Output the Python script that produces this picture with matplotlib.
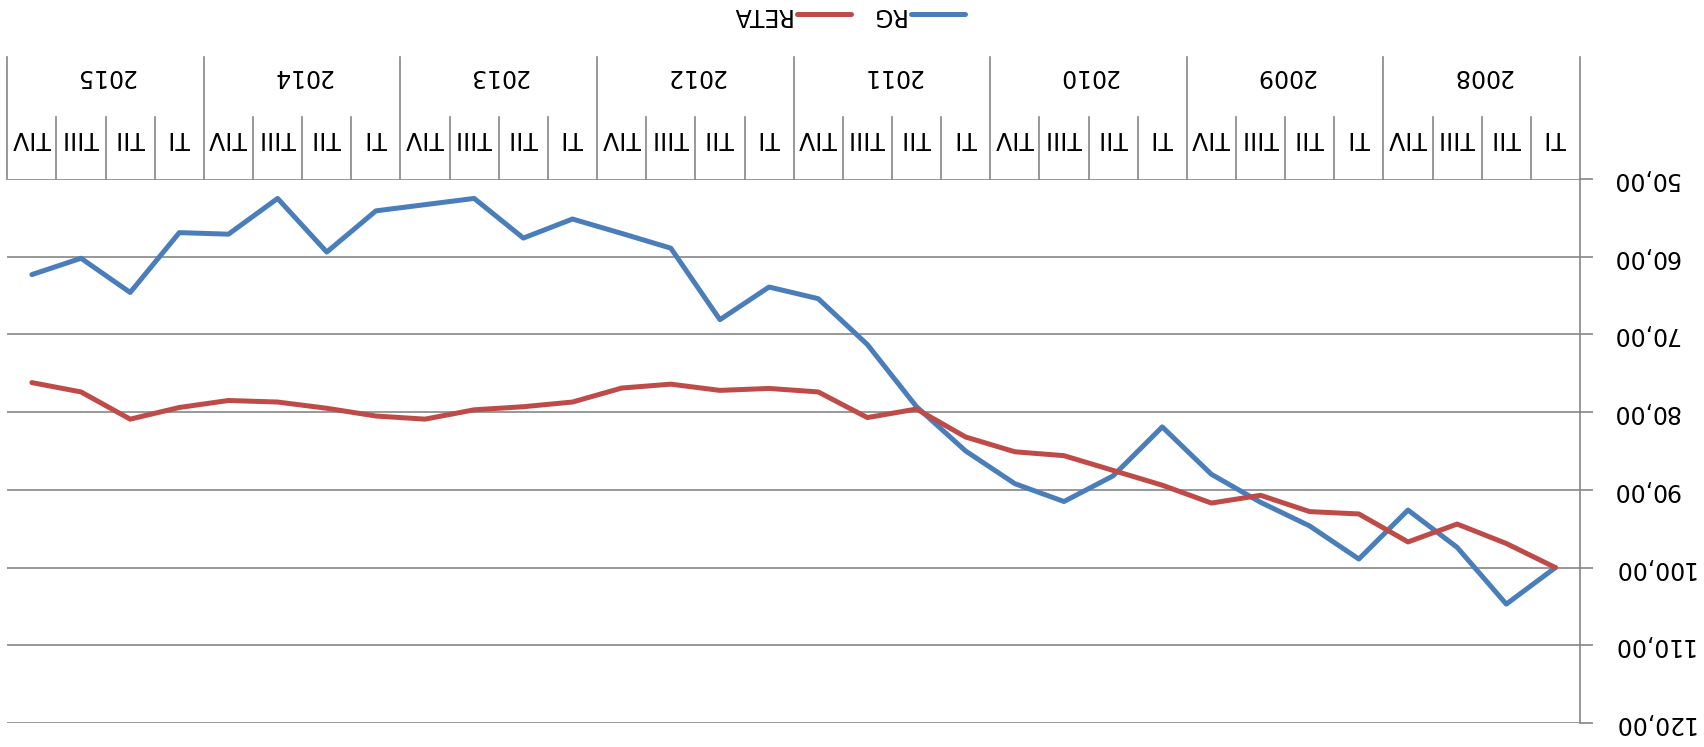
import matplotlib
matplotlib.use("Agg")
import matplotlib.pyplot as plt
from matplotlib.lines import Line2D

# ---- data (chronological: 2008 TI ... 2015 TIV) ----
years = ["2008", "2009", "2010", "2011", "2012", "2013", "2014", "2015"]
quarters = ["TI", "TII", "TIII", "TIV"]
rg = [100.0, 104.7, 97.4, 92.6,
      98.9, 94.65, 91.6, 88.0,
      81.9, 88.2, 91.5, 89.2,
      85.0, 79.3, 71.3, 65.4,
      63.9, 68.1, 58.9, 57.0,
      55.15, 57.6, 52.5, 53.3,
      54.1, 59.4, 52.5, 57.1,
      56.9, 64.6, 60.2, 62.3]
reta = [100.0, 96.9, 94.4, 96.7,
        93.1, 92.8, 90.7, 91.7,
        89.4, 87.5, 85.6, 85.1,
        83.2, 79.6, 80.7, 77.4,
        76.95, 77.2, 76.4, 76.9,
        78.7, 79.3, 79.7, 80.9,
        80.5, 79.5, 78.7, 78.5,
        79.4, 80.9, 77.4, 76.2]
y_ticks = [50, 60, 70, 80, 90, 100, 110, 120]
series_names = ["RG", "RETA"]

BLUE = "#4A7EBB"
RED = "#BE4B48"
GRAY = "#868686"
FS = 17

W, H = 1704, 747
fig = plt.figure(figsize=(W / 100, H / 100), dpi=100)
ax = fig.add_axes([7.3 / W, 24 / H, (1580 - 7.3) / W, 544 / H])

x = list(range(len(rg)))
ax.plot(x, rg, color=BLUE, lw=3.6, solid_capstyle="round", solid_joinstyle="round", zorder=3)
ax.plot(x, reta, color=RED, lw=3.6, solid_capstyle="round", solid_joinstyle="round", zorder=4)

n = len(rg)
ax.set_xlim(n - 0.5, -0.5)
ax.set_ylim(120, 50)
ax.set_xticks([])

ax.yaxis.tick_right()
ax.set_yticks(y_ticks)
ax.set_yticklabels([f"{v:.2f}".replace(".", ",") for v in y_ticks])
ax.tick_params(axis="y", length=9.4, width=1.2, color=GRAY, pad=13.5, labelsize=FS)
for lab in ax.get_yticklabels():
    lab.set_rotation(180)
    lab.set_va("center")

ax.yaxis.grid(True, color=GRAY, lw=1.2)
ax.set_axisbelow(True)
for s in ["top", "left", "bottom"]:
    ax.spines[s].set_visible(False)
ax.spines["right"].set_color(GRAY)
ax.spines["right"].set_linewidth(1.2)

# ---- category header (above plot, upside down) ----
trans = ax.get_xaxis_transform()
y_year_top = (723 - 56.7) / 544
y_q_top = (723 - 116.7) / 544
for j in range(-1, n):
    b = j + 0.5
    top = y_year_top if (j + 1) % 4 == 0 else y_q_top
    ax.plot([b, b], [1.0, top], color=GRAY, lw=1.2, transform=trans, clip_on=False)

y_q_txt = (723 - 137.5) / 544
y_y_txt = (723 - 75.8) / 544
for j in range(n):
    ax.text(j, y_q_txt, quarters[j % 4], transform=trans, rotation=180,
            ha="center", va="center", fontsize=FS)
for i, yr in enumerate(years):
    ax.text(4 * i + 1.5, y_y_txt, yr, transform=trans, rotation=180,
            ha="center", va="center", fontsize=FS)

# ---- legend (upside down) ----
handles = [Line2D([], [], color=RED, lw=3.6, solid_capstyle="round"),
           Line2D([], [], color=BLUE, lw=3.6, solid_capstyle="round")]
leg = fig.legend(handles, [series_names[1], series_names[0]], loc="center",
                 bbox_to_anchor=(0.4974, 0.98), ncol=2, markerfirst=False,
                 frameon=False, fontsize=FS, handlelength=2.3,
                 handletextpad=0.25, columnspacing=0.8)
for t in leg.get_texts():
    t.set_rotation(180)

fig.savefig("out.png", dpi=100)
